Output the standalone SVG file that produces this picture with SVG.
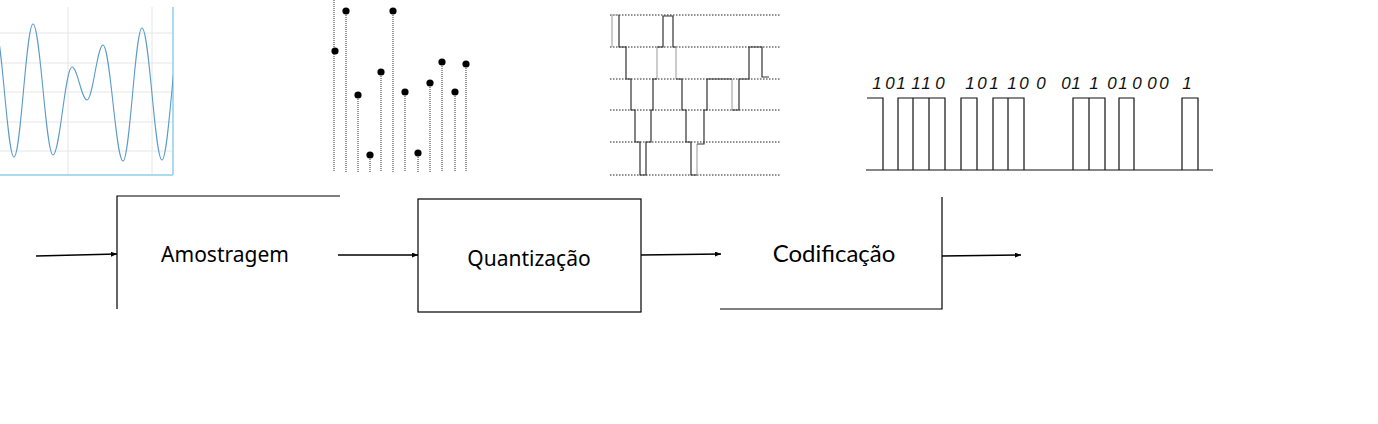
<svg xmlns="http://www.w3.org/2000/svg" width="1378" height="424" viewBox="0 0 1378 424">
<style>
.grid{stroke:#e6e6e6;stroke-width:1;fill:none}
.axis{stroke:#8fd0ea;stroke-width:1.5;fill:none}
.wave{stroke:#5a9ccb;stroke-width:1.1;fill:none}
.stem{stroke:#333;stroke-width:1;stroke-dasharray:1 1;fill:none}
.dot{fill:#000}
.lvl{stroke:#222;stroke-width:1;stroke-dasharray:1.5 1.5;fill:none}
.step{stroke:#333;stroke-width:1.2;fill:none}
.stepl{stroke:#aaa;stroke-width:1.2;fill:none}
.pulse{stroke:#111;stroke-width:1.2;fill:none}
.bit{font-family:"Liberation Sans Narrow","Liberation Sans",Arial,sans-serif;font-style:italic;font-size:17px;fill:#111;text-anchor:middle}
.box{stroke:#000;stroke-width:1.2;fill:none}
.lbl{font-family:"Noto Sans","Open Sans",sans-serif;font-size:21px;fill:#000;text-anchor:middle}
.conn{stroke:#000;stroke-width:1.5;fill:none;marker-end:url(#ah)}
</style>
<defs>
<marker id="ah" markerUnits="userSpaceOnUse" markerWidth="7" markerHeight="6" refX="6" refY="2.5" orient="auto">
<path d="M0,0 L6,2.5 L0,5 z" fill="#000"/>
</marker>
<clipPath id="plotclip"><rect x="0" y="0" width="173" height="176"/></clipPath>
</defs>
<rect width="1378" height="424" fill="#fff"/>

<g id="analog-signal">
<path class="grid" d="M0,33 H173 M0,63 H173 M0,92 H173 M0,122 H173 M0,151 H173 M68,7 V175 M152,7 V175"/>
<path class="axis" d="M0,175 H173 M173,7 V175"/>
<path class="wave" clip-path="url(#plotclip)" d="M-5,28 C1.9,28 7.1,157 14,157 C20.9,157 26.1,24 33,24 C40.3,24 45.7,155 53,155 C59.9,155 65.1,67 72,67 C77.5,67 81.5,100 87,100 C92.8,100 97.2,45 103,45 C110.3,45 115.7,161 123,161 C129.9,161 135.1,28 142,28 C149.3,28 154.7,160 162,160 C168.9,160 174.1,30 181,30"/>
</g>

<g id="sampled-signal">
<path class="stem" d="M334,0 V172 M346,11 V172 M358,95 V172 M370,155 V172 M381,72 V172 M393,11 V172 M405,92 V172 M418,153 V172 M430,83 V172 M442,62 V172 M455,92 V172 M466,64 V172"/>
<circle class="dot" cx="335" cy="51" r="3.6"/>
<circle class="dot" cx="346" cy="11" r="3.6"/>
<circle class="dot" cx="358" cy="95" r="3.6"/>
<circle class="dot" cx="370" cy="155" r="3.6"/>
<circle class="dot" cx="381" cy="72" r="3.6"/>
<circle class="dot" cx="393" cy="11" r="3.6"/>
<circle class="dot" cx="405" cy="92" r="3.6"/>
<circle class="dot" cx="418" cy="153" r="3.6"/>
<circle class="dot" cx="430" cy="83" r="3.6"/>
<circle class="dot" cx="442" cy="62" r="3.6"/>
<circle class="dot" cx="455" cy="92" r="3.6"/>
<circle class="dot" cx="466" cy="64" r="3.6"/>
</g>

<g id="quantized-signal">
<path class="lvl" d="M610,15 H780 M610,47 H780 M610,79 H780 M610,110 H780 M610,142 H780 M610,175 H780"/>
<path class="stepl" d="M612,47 V15 H619 M657,47 V79 M676,47 V79 M697,175 V144 M732,79 V110"/>
<path class="step" d="M619,15 V47 H626 V79 H631 V110 H635 V142 H640 V175 H646 V142 H651 V110 H653 V79 H657 M657,47 H663 V16 H673 V47 H676 M676,79 H682 V110 H686 V142 H691 V175 H697 M697,144 H704 V110 H707 V79 H732 M732,110 H739 V79 H749 V47 H762 V77 H769"/>
</g>

<g id="digital-signal">
<path class="pulse" d="M866,170 H1213"/>
<path class="pulse" d="M867,98 H883 V170 M898,170 V98 H945 V170 M913,98 V170 M929,98 V170 M961,170 V98 H977 V170 M993,170 V98 H1024 V170 M1008,98 V170 M1073,170 V98 H1105 V170 M1089,98 V170 M1119,170 V98 H1134 V170 M1182,170 V98 H1198 V170"/>
<text class="bit" x="877" y="89">1</text>
<text class="bit" x="890" y="89">0</text>
<text class="bit" x="901" y="89">1</text>
<text class="bit" x="916" y="89">1</text>
<text class="bit" x="926" y="89">1</text>
<text class="bit" x="940" y="89">0</text>
<text class="bit" x="970" y="89">1</text>
<text class="bit" x="982" y="89">0</text>
<text class="bit" x="994" y="89">1</text>
<text class="bit" x="1012" y="89">1</text>
<text class="bit" x="1024" y="89">0</text>
<text class="bit" x="1041" y="89">0</text>
<text class="bit" x="1066" y="89">0</text>
<text class="bit" x="1076" y="89">1</text>
<text class="bit" x="1094" y="89">1</text>
<text class="bit" x="1112" y="89">0</text>
<text class="bit" x="1123" y="89">1</text>
<text class="bit" x="1137" y="89">0</text>
<text class="bit" x="1152" y="89">0</text>
<text class="bit" x="1164" y="89">0</text>
<text class="bit" x="1187" y="89">1</text>
</g>

<g id="amostragem">
<path class="box" d="M117,309 V196 H340"/>
<text class="lbl" x="225" y="262">Amostragem</text>
</g>
<g id="quantizacao">
<rect class="box" x="418" y="199" width="223" height="113"/>
<text class="lbl" x="529" y="265.5">Quantização</text>
</g>
<g id="codificacao">
<path class="box" d="M720,309 H942 V197"/>
<text class="lbl" x="834" y="262" style="font-family:Lato,'Open Sans',sans-serif;font-size:24px">Codificação</text>
</g>

<g id="connectors">
<path class="conn" d="M36,256 L117,254"/>
<path class="conn" d="M338,255 L418,255"/>
<path class="conn" d="M641,255 L721,254"/>
<path class="conn" d="M942,256 L1021,255"/>
</g>
</svg>
